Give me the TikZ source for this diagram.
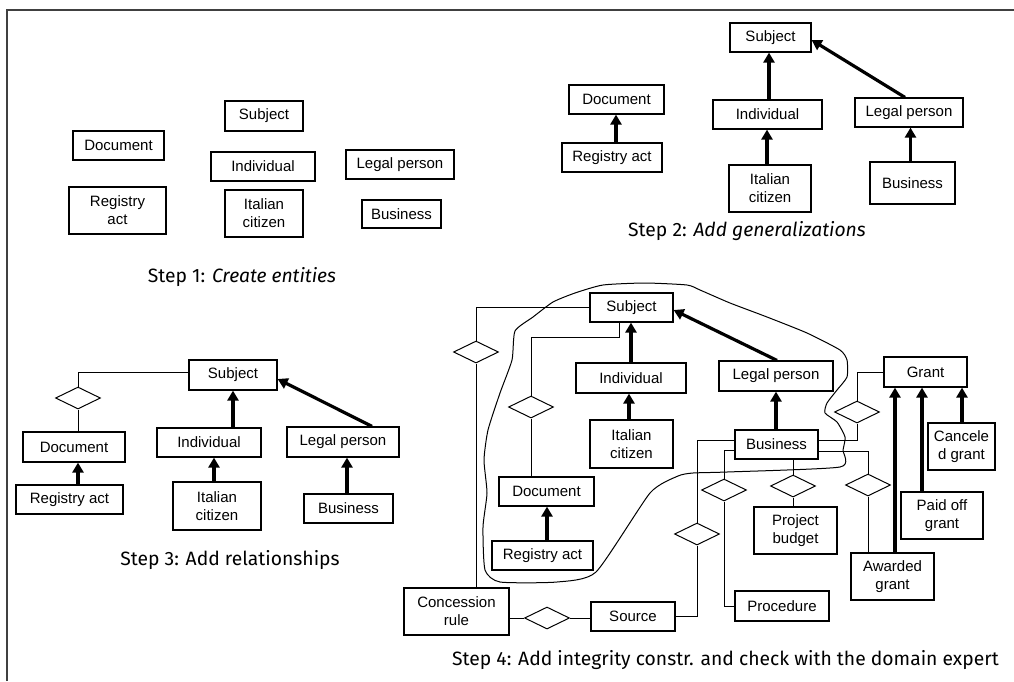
\documentclass[tikz,border=0pt]{standalone}
\usepackage{fontspec}
\setmainfont{Liberation Sans}
\newfontfamily\capfont{Fira Sans}
\usetikzlibrary{shapes.geometric,arrows.meta,calc}
\begin{document}
\begin{tikzpicture}[x=1pt,y=-1pt,
 box/.style 2 args={draw, line width=1.2pt, rectangle, inner sep=0pt, minimum width=#1pt, minimum height=#2pt, align=center, font=\fontsize{15}{18}\selectfont},
 rel/.style={draw, line width=1pt, diamond, inner sep=0pt, minimum width=45pt, minimum height=22pt},
 conn/.style={line width=1pt},
 gen/.style={line width=3.2pt, -{Triangle[length=10pt,width=11pt]}},
 captxt/.style={font=\capfont\fontsize{19.3}{22}\selectfont, inner sep=0pt}]
\useasboundingbox (0,0) rectangle (1014,681);
% frame
\draw[line width=1.5pt, black!75] (7,681) -- (7,10) -- (1014,10);

% ---------- Step 1
\node[box={78}{30}] (s1sub) at (264,116) {Subject};
\node[box={91}{29}] (s1doc) at (118.5,145.5) {Document};
\node[box={104}{29}] (s1ind) at (263,166.5) {Individual};
\node[box={108}{29}] (s1leg) at (400,164.5) {Legal person};
\node[box={97}{47}] (s1reg) at (117.5,210.5) {Registry\\act};
\node[box={78}{47}] (s1ita) at (264,213.5) {Italian\\citizen};
\node[box={79}{28}] (s1bus) at (401.5,214) {Business};
\node[captxt] (c1) at (242,277) {Step 1: \textit{Create entities}};

% ---------- Step 2
\node[box={81}{29}] (s2sub) at (770.5,37.5) {Subject};
\node[box={95}{29}] (s2doc) at (616.5,99.5) {Document};
\node[box={100}{29}] (s2reg) at (612,157.5) {Registry act};
\node[box={109}{29}] (s2ind) at (767.5,114.5) {Individual};
\node[box={82}{47}] (s2ita) at (770,188.5) {Italian\\citizen};
\node[box={108}{29}] (s2leg) at (909,112.5) {Legal person};
\node[box={85}{42}] (s2bus) at (912.5,183) {Business};
\node[captxt] (c2) at (747,231) {Step 2: \textit{Add generalizations}};
\draw[gen] ([xshift=4pt]s2reg.north) -- ([xshift=4pt]s2reg.north |- s2doc.south);
\draw[gen] ([xshift=-3pt]s2ita.north) -- ([xshift=-3pt]s2ita.north |- s2ind.south);
\draw[gen] ([xshift=-1.5pt]s2sub.south |- s2ind.north) -- ([xshift=-1.5pt]s2sub.south);
\draw[gen] ([xshift=-2pt]s2bus.north) -- ([xshift=-2pt]s2bus.north |- s2leg.south);
\draw[gen] ([xshift=-4pt]s2leg.north) -- ([yshift=-2.5pt]s2sub.east);

% ---------- Step 3
\node[box={88}{30}] (s3sub) at (233,375) {Subject};
\node[rel] (s3dia) at (78,398) {};
\node[box={102}{30}] (s3doc) at (74,447) {Document};
\node[box={107}{29}] (s3reg) at (69.5,499.5) {Registry act};
\node[box={104}{29}] (s3ind) at (209,442.5) {Individual};
\node[box={88}{48}] (s3ita) at (217,506) {Italian\\citizen};
\node[box={112}{30}] (s3leg) at (343,442) {Legal person};
\node[box={89}{29}] (s3bus) at (348.5,508.5) {Business};
\node[captxt] (c3) at (230,560) {Step 3: Add relationships};
\draw[conn] ([yshift=3pt]s3sub.west) -| (s3dia.north);
\draw[conn] (s3dia.south) -- (s3dia.south |- s3doc.north);
\draw[gen] (s3reg.north -| s3dia.south) -- (s3doc.south -| s3dia.south);
\draw[gen] ([xshift=-3pt]s3ita.north) -- ([xshift=-3pt]s3ita.north |- s3ind.south);
\draw[gen] (s3ind.north -| s3sub.south) -- (s3sub.south);
\draw[gen] ([xshift=-1.5pt]s3bus.north) -- ([xshift=-1.5pt]s3bus.north |- s3leg.south);
\draw[gen] ([xshift=29pt]s3leg.north) -- ([yshift=-4pt]s3sub.east);

% ---------- Step 4
\draw[line width=1pt] plot[smooth cycle, tension=0.35] coordinates {
 (603,285) (645,283) (687,285) (700,290) (730,303) (767,317) (807,333) (840,350)
 (847,360) (847,377) (837,390) (827,403) (825,413) (837,422) (845,437) (843,450)
 (840,467) (727,472) (693,473) (678,476) (650,493) (596,572) (557,582) (500,582)
 (485,570) (483,527) (487,493) (484,460) (488,430) (500,393) (512,360) (515,331)
 (533,317) (553,302) (575,293)};

\node[box={83}{29}] (s4sub) at (631.5,307.5) {Subject};
\node[box={110}{30}] (s4ind) at (631,378) {Individual};
\node[box={83}{48}] (s4ita) at (631.5,444) {Italian\\citizen};
\node[box={95}{29}] (s4doc) at (546.5,491.5) {Document};
\node[box={101}{29}] (s4reg) at (542.5,555.5) {Registry act};
\node[box={105}{47}] (s4con) at (456.5,611.5) {Concession\\rule};
\node[box={84}{29}] (s4src) at (633,616.5) {Source};
\node[box={114}{30}] (s4leg) at (776,376) {Legal person};
\node[box={83}{29}] (s4bus) at (776.5,444.5) {Business};
\node[box={83}{30}] (s4gra) at (925.5,372) {Grant};
\node[box={67}{47}] (s4can) at (961.5,446.5) {Cancele\\d grant};
\node[box={82}{47}] (s4pai) at (942,515.5) {Paid off\\grant};
\node[box={83}{47}] (s4awa) at (892.5,576.5) {Awarded\\grant};
\node[box={83}{47}] (s4pb) at (795.5,530.5) {Project\\budget};
\node[box={94}{30}] (s4pro) at (782,606) {Procedure};

\node[rel] (dA) at (476,352) {};
\node[rel] (dB) at (531,407) {};
\node[rel] (dC) at (547,618) {};
\node[rel] (dD) at (697,534) {};
\node[rel] (dE) at (724,490) {};
\node[rel] (dF) at (857,412) {};
\node[rel] (dG) at (868,485) {};
\node[rel] (dH) at (793,486) {};

\node[captxt, anchor=west] (c4) at (452,660) {Step 4: Add integrity constr. and check with the domain expert};

\draw[conn] (s4sub.west) -| (dA.north);
\draw[conn] (dA.south) -- (dA.south |- s4con.north);
\draw[conn] ([xshift=-12.5pt]s4sub.south) -- ++(0,15) -| (dB.north);
\draw[conn] (dB.south) -- (dB.south |- s4doc.north);
\draw[conn] (s4con.east |- dC.west) -- (dC.west);
\draw[conn] (dC.east) -- (s4src.west |- dC.east);
\draw[conn] (s4src.east) -| (dD.south);
\draw[conn] (dD.north) |- ([yshift=4.5pt]s4bus.west);
\draw[conn] ([yshift=-5.5pt]s4bus.west) -| (dE.north);
\draw[conn] (dE.south) |- (s4pro.west);
\draw[conn] ([yshift=4.5pt]s4bus.east) -| (dF.south);
\draw[conn] (dF.north) |- (s4gra.west);
\draw[conn] ([yshift=-6.5pt]s4bus.east) -| (dG.north);
\draw[conn] (dG.south) -- (dG.south |- s4awa.north);
\draw[conn] ([xshift=16.5pt]s4bus.south) -- (dH.north);
\draw[conn] (dH.south) -- (dH.south |- s4pb.north);

\draw[gen] ([xshift=4.5pt]s4reg.north) -- ([xshift=4.5pt]s4reg.north |- s4doc.south);
\draw[gen] ([xshift=-2.5pt]s4ita.north) -- ([xshift=-2.5pt]s4ita.north |- s4ind.south);
\draw[gen] (s4ind.north) -- (s4ind.north |- s4sub.south);
\draw[gen] ([xshift=1pt]s4leg.north) -- ([yshift=-2.5pt]s4sub.east);
\draw[gen] (s4bus.north -| s4leg.south) -- (s4leg.south);
\draw[gen] ([xshift=2.5pt]s4awa.north) -- ([xshift=2.5pt]s4awa.north |- s4gra.south);
\draw[gen] ([xshift=-20pt]s4pai.north) -- ([xshift=-20pt]s4pai.north |- s4gra.south);
\draw[gen] ([xshift=0.5pt]s4can.north) -- ([xshift=0.5pt]s4can.north |- s4gra.south);
\end{tikzpicture}
\end{document}
